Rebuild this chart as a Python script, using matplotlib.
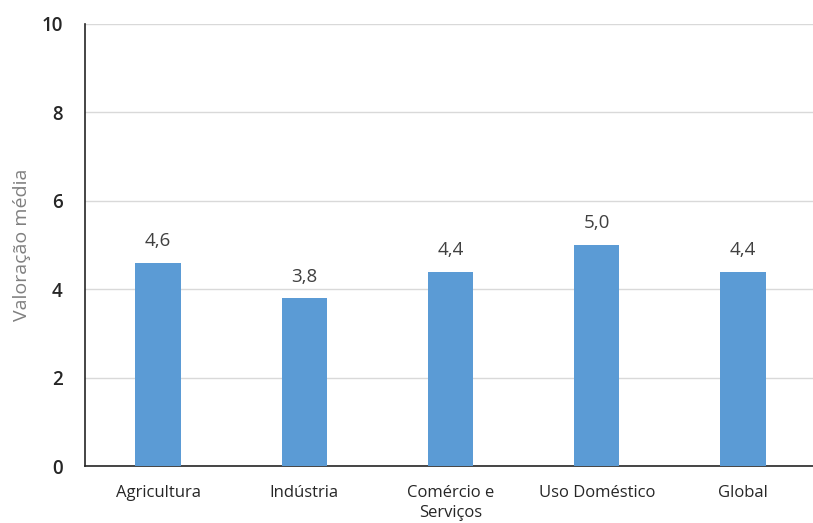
import matplotlib
matplotlib.use("Agg")
import matplotlib.pyplot as plt

categories = ["Agricultura", "Indústria", "Comércio e\nServiços", "Uso Doméstico", "Global"]
values = [4.6, 3.8, 4.4, 5.0, 4.4]
yticks = [0, 2, 4, 6, 8, 10]

plt.rcParams["font.family"] = ["Open Sans", "DejaVu Sans"]

fig = plt.figure(figsize=(8.13, 5.23), dpi=100)
ax = fig.add_axes([85 / 813, 57 / 523, 731 / 813, 442 / 523])

x = range(len(categories))
bars = ax.bar(x, values, width=0.31, color="#5B9BD5", zorder=3)
for xi, v in zip(x, values):
    ax.annotate(f"{v:.1f}".replace(".", ","), (xi, v), xytext=(0, 9),
                textcoords="offset points", ha="center", va="bottom",
                fontsize=13.5, color="#404040")

ax.set_xlim(-0.5, len(categories) - 0.5)
ax.set_ylim(0, 10)
ax.set_yticks(yticks)
ax.set_yticklabels([str(t) for t in yticks], fontsize=13.5, color="#262626",
                   fontweight="semibold")
ax.set_xticks(list(x))
ax.set_xticklabels(categories, fontsize=12, color="#262626", linespacing=1.3)
ax.tick_params(axis="y", length=0, pad=16)
ax.tick_params(axis="x", length=0, pad=14)
ax.grid(axis="y", color="#D9D9D9", linewidth=1, zorder=0)
for s in ["top", "right"]:
    ax.spines[s].set_visible(False)
ax.spines["left"].set_color("#262626")
ax.spines["bottom"].set_color("#262626")
ax.spines["left"].set_linewidth(1.2)
ax.spines["bottom"].set_linewidth(1.2)
ax.set_ylabel("Valoração média", fontsize=14, color="#808080")
ax.yaxis.set_label_coords(-0.074, 0.5)

fig.savefig("out.png", dpi=100)
